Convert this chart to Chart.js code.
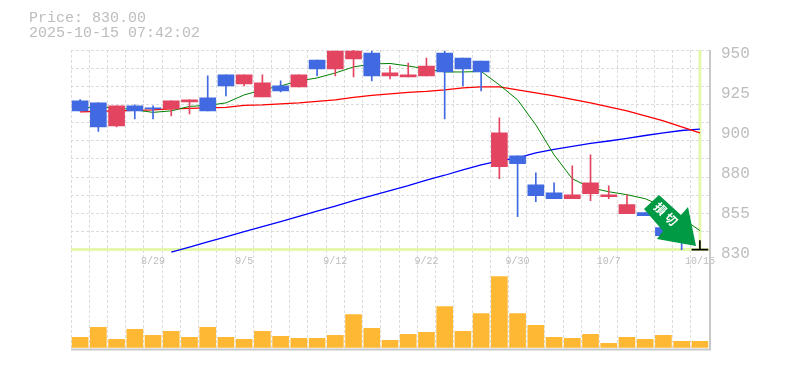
<!DOCTYPE html>
<html>
<head>
<meta charset="utf-8">
<title>Price chart</title>
<script src="https://cdn.jsdelivr.net/npm/chart.js@4"></script>
<style>
    body { margin: 0; background: #fff; }
    #wrap { position: relative; width: 785px; height: 370px; overflow: hidden; }
    #graph { position: absolute; left: 0; top: 0; }
    #priceInfo { position: absolute; left: 29px; top: 11px; font: 15px/15px "Liberation Mono", monospace; color: #bdbdbd; white-space: pre; }
    #signal { position: absolute; left: 0; top: 0; }
</style>
</head>
<body>
<div id="wrap">
    <canvas id="graph" width="785" height="370"></canvas>
    <div id="priceInfo">Price: 830.00
2025-10-15 07:42:02</div>
    <svg id="signal" width="785" height="370">
        <polygon points="659,195 681,215 688,207 696,246 657,239 663,231 644,209" fill="#009944"/>
        <text transform="translate(666,216) rotate(45)" font-family="Noto Sans CJK JP" font-size="12" font-weight="700" letter-spacing="3" fill="#fff" text-anchor="middle" dominant-baseline="middle">損切</text>
    </svg>
</div>
<script>
const dates = ['8/25','8/26','8/27','8/28','8/29','9/1','9/2','9/3','9/4','9/5','9/8','9/9','9/10','9/11','9/12','9/16','9/17','9/18','9/19','9/22','9/24','9/25','9/26','9/29','9/30','10/1','10/2','10/3','10/6','10/7','10/8','10/9','10/10','10/14','10/15'];
const opens = [919.4,918.2,904.4,916.4,915.2,914.6,918.8,921.2,935,929.6,921.8,928.4,927.8,944,938.6,944.6,948.2,934.4,933.8,934.4,948.2,945.2,943.4,879.8,886.4,869,864.2,860.6,863.6,861.8,851.6,852.2,843.2,840.8,830.3];
const closes = [913.4,903.8,916.4,913.4,914.6,919.4,920,913.4,928.4,935,930.2,925.4,935,938.6,949.4,949.4,934.4,936.2,935,940.4,936.8,938.6,936.8,900.2,881.6,862.4,860.6,863,870.2,863,857,850.4,838.4,836,829.7];
const highs = [920.2,918.2,916.4,917,916.4,919.4,920,934.4,935,935,935,931.4,935,944,949.4,950,949.4,940.4,942.2,945.2,949.4,945.2,943.4,909.2,886.4,876.2,870.2,880.4,887,868.4,863,852.2,843.2,840.8,835.4];
const lows = [913.4,901,903.8,908.6,908.6,910.4,911.6,913.4,922.4,928.4,921.8,924.8,927.8,934.4,934.4,933.8,931.4,932.6,933.8,934.4,908.6,928.4,925.4,872.6,849.8,858.8,860.6,860.6,859.4,860.6,851.6,850.4,838.4,830,830];
const maShort = [915.2,915.5,915.2,914,912.5,913.4,916.1,916.7,918.2,923,926,928.4,931.4,933.2,936.2,939.8,941.6,941.9,940.4,938.6,936.8,936.8,937.1,929,920,905,887,872.6,867.2,864.8,863,860.6,855.8,849.2,841.4];
const maMiddle = [912.8,913.1,913.4,913.7,914,914.6,914.9,915.2,915.5,916.7,917,917.6,918.2,919.1,920,921.5,922.7,923.6,924.5,925.1,926,927.2,927.8,927.8,926,924.2,922.4,920.3,918.2,915.8,913.4,910.4,907.4,903.8,900.2];
const maLong = [null,null,null,null,null,828.5,831.5,834.6,837.7,840.8,843.8,846.8,850,853.1,856.2,859.4,862.4,865.4,868.4,871.7,874.7,878,881,883.4,885.2,888.2,890.3,892.1,893.8,895.3,896.9,898.6,900.2,901.6,902.4];
const volumes = [10,20,8,18,12,16,10,20,10,8,16,11,9,9,12,33,19,7,13,15,41,16,34,71,34,22,10,9,13,4,10,8,12,6,6];
const priceTicks = [950,926,902,878,854,830];
const priceLabels = ['950','925','900','880','855','830'];
const gridPrices = [830,840.9,851.8,862.7,873.6,884.5,895.5,906.4,917.3,928.2,939.1,950];
const lastPrice = 830;

function candleColor(i) {
    if (Math.abs(opens[i] - closes[i]) <= 0.6) {
        return '#000000';
    }
    return closes[i] > opens[i] ? '#e34460' : '#4169e1';
}

const candleColors = dates.map((d, i) => candleColor(i));

// pale green cross on the latest price, plus the grey frame
const framePlugin = {
    id: 'framePlugin',
    beforeDatasetsDraw(chart) {
        const ctx = chart.ctx;
        const area = chart.chartArea;
        const y = chart.scales.y.getPixelForValue(lastPrice);
        const x = chart.scales.x.getPixelForValue(dates.length - 1);
        ctx.save();
        ctx.strokeStyle = '#e3f7ad';
        ctx.lineWidth = 3;
        ctx.beginPath();
        ctx.moveTo(area.left, y);
        ctx.lineTo(area.right, y);
        ctx.moveTo(x, area.top);
        ctx.lineTo(x, y);
        ctx.stroke();
        ctx.restore();
    },
    afterDraw(chart) {
        const ctx = chart.ctx;
        const area = chart.chartArea;
        ctx.save();
        ctx.strokeStyle = '#c8c8c8';
        ctx.lineWidth = 2;
        ctx.beginPath();
        ctx.moveTo(area.right + 1, area.top);
        ctx.lineTo(area.right + 1, area.bottom + 1);
        ctx.lineTo(area.left, area.bottom + 1);
        ctx.stroke();
        ctx.restore();
    }
};

function lineSet(values, color, width) {
    return {
        type: 'line',
        data: values,
        yAxisID: 'y',
        borderColor: color,
        borderWidth: width,
        pointRadius: 0,
        tension: 0,
        fill: false,
        order: 3
    };
}

new Chart(document.getElementById('graph').getContext('2d'), {
    data: {
        labels: dates,
        datasets: [
            lineSet(maShort, '#008000', 1),
            lineSet(maMiddle, '#ff0000', 1.3),
            lineSet(maLong, '#0000ff', 1.3),
            {
                type: 'bar',
                data: lows.map((low, i) => [low, highs[i]]),
                yAxisID: 'y',
                backgroundColor: candleColors,
                barThickness: 1,
                grouped: false,
                order: 2
            },
            {
                type: 'bar',
                data: opens.map((open, i) => [open, closes[i]]),
                yAxisID: 'y',
                backgroundColor: candleColors,
                barThickness: 16,
                grouped: false,
                order: 1
            },
            {
                type: 'bar',
                data: volumes,
                yAxisID: 'yVolume',
                backgroundColor: '#ffb833',
                barThickness: 16,
                grouped: false,
                order: 4
            }
        ]
    },
    options: {
        responsive: false,
        animation: false,
        layout: { padding: { left: 71, top: 50, bottom: 21, right: 0 } },
        plugins: {
            legend: { display: false },
            title: { display: false },
            tooltip: { enabled: false }
        },
        scales: {
            x: {
                type: 'category',
                position: { y: 830 },
                offset: true,
                grid: { offset: true, color: '#dcdcdc', drawTicks: false },
                border: { display: false, dash: [3, 2] },
                ticks: {
                    autoSkip: false,
                    maxRotation: 0,
                    padding: 6,
                    color: '#bdbdbd',
                    font: { family: '"Liberation Mono", monospace', size: 10 },
                    callback: function(value, index) {
                        return index % 5 === 4 ? dates[index] : '';
                    }
                }
            },
            y: {
                position: 'right',
                min: 770.6,
                max: 950,
                afterBuildTicks: function(scale) {
                    scale.ticks = priceTicks.map(v => ({ value: v }));
                },
                afterFit: function(scale) {
                    scale.width = 76;
                },
                grid: { display: false, drawTicks: false },
                border: { display: false },
                ticks: {
                    autoSkip: false,
                    padding: 12,
                    labelOffset: 4,
                    color: '#bdbdbd',
                    font: { family: '"Liberation Mono", monospace', size: 16 },
                    callback: function(value, index) {
                        return priceLabels[index];
                    }
                }
            },
            yGrid: {
                position: 'right',
                min: 770.6,
                max: 950,
                afterBuildTicks: function(scale) {
                    scale.ticks = gridPrices.map(v => ({ value: v }));
                },
                afterFit: function(scale) {
                    scale.width = 0;
                },
                grid: { color: '#dcdcdc', drawTicks: false },
                border: { display: false, dash: [3, 2] },
                ticks: { display: false }
            },
            yVolume: {
                display: false,
                min: -1,
                max: 298
            }
        }
    },
    plugins: [framePlugin]
});
</script>
</body>
</html>
